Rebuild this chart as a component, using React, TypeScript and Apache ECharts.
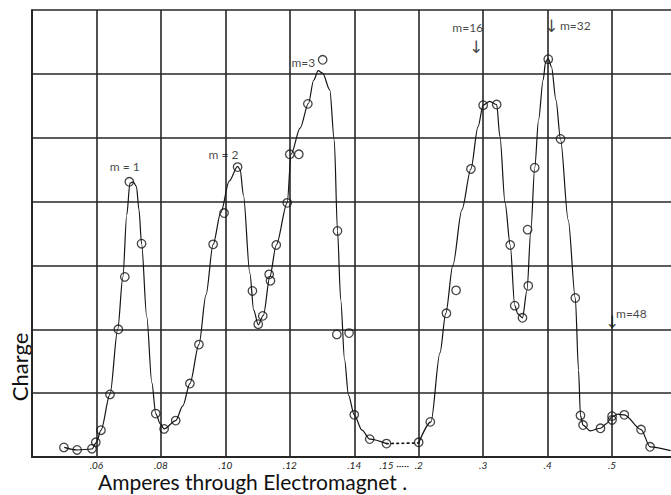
import { useEffect, useRef } from 'react';
import * as echarts from 'echarts';

// Measured circles (amperes, charge in grid divisions)
const CIRCLE_AMPS = [
  0.0499, 0.054, 0.0586, 0.0598, 0.0614, 0.0642, 0.0668, 0.0688, 0.0702, 0.074,
  0.0784, 0.081, 0.0846, 0.089, 0.0918, 0.0962, 0.0996, 0.1038, 0.1084, 0.1102,
  0.1116, 0.1136, 0.114, 0.1158, 0.1192, 0.12, 0.1228, 0.1256, 0.1302, 0.1348,
  0.1346, 0.1384, 0.14, 0.1448, 0.15, 0.2, 0.218, 0.243, 0.258, 0.281,
  0.3, 0.321, 0.342, 0.349, 0.361, 0.37, 0.369, 0.38, 0.401, 0.42,
  0.443, 0.451, 0.455, 0.482, 0.5, 0.5, 0.519, 0.545, 0.559,
];
const CIRCLE_CHARGE = [
  0.15, 0.11, 0.13, 0.23, 0.42, 0.98, 2.0, 2.82, 4.31, 3.34,
  0.68, 0.44, 0.57, 1.15, 1.76, 3.33, 3.82, 4.54, 2.6, 2.08,
  2.21, 2.86, 2.76, 3.32, 3.98, 4.74, 4.74, 5.53, 6.22, 3.54,
  1.92, 1.94, 0.66, 0.28, 0.21, 0.23, 0.55, 2.25, 2.61, 4.51,
  5.51, 5.52, 3.32, 2.37, 2.18, 2.68, 3.56, 4.53, 6.23, 4.98,
  2.49, 0.65, 0.5, 0.45, 0.64, 0.58, 0.66, 0.43, 0.16,
];

// Drawn curve, low-current part (up to .15)
const CURVE_LOW_AMPS = [
  0.05, 0.054, 0.0586, 0.06, 0.0614, 0.0642, 0.0666, 0.0682, 0.0694, 0.0704,
  0.0714, 0.0724, 0.0732, 0.074, 0.0756, 0.0772, 0.0784, 0.0798, 0.081, 0.0846,
  0.0868, 0.089, 0.0918, 0.094, 0.0962, 0.0986, 0.1012, 0.1038, 0.1046, 0.1056,
  0.1076, 0.1088, 0.1102, 0.1118, 0.1138, 0.1158, 0.1192, 0.1204, 0.1232, 0.1258,
  0.1274, 0.1288, 0.1302, 0.1324, 0.1338, 0.1348, 0.1358, 0.137, 0.1382, 0.14,
  0.1424, 0.1448, 0.15,
];
const CURVE_LOW_CHARGE = [
  0.15, 0.11, 0.125, 0.23, 0.42, 0.98, 2.0, 2.82, 3.79, 4.29,
  4.31, 4.24, 3.87, 3.34, 2.2, 1.16, 0.68, 0.52, 0.44, 0.57,
  0.8, 1.15, 1.76, 2.54, 3.33, 3.83, 4.32, 4.55, 4.5, 4.1,
  2.88, 2.3, 2.07, 2.22, 2.82, 3.32, 3.98, 4.74, 5.15, 5.54,
  5.9, 6.05, 6.01, 5.75, 4.96, 3.54, 2.46, 1.52, 0.97, 0.66,
  0.42, 0.28, 0.21,
];

// Dotted bridge across the broken scale
const GAP_AMPS = [0.15, 0.2];
const GAP_CHARGE = [0.21, 0.22];

// Drawn curve, high-current part (from .2)
const CURVE_HIGH_AMPS = [
  0.2, 0.219, 0.233, 0.242, 0.253, 0.267, 0.281, 0.292, 0.3, 0.31,
  0.321, 0.326, 0.334, 0.342, 0.349, 0.354, 0.361, 0.368, 0.374, 0.38,
  0.386, 0.393, 0.397, 0.401, 0.406, 0.413, 0.42, 0.432, 0.443, 0.448,
  0.451, 0.455, 0.466, 0.482, 0.491, 0.5, 0.509, 0.519, 0.545, 0.559,
  0.591,
];
const CURVE_HIGH_CHARGE = [
  0.22, 0.55, 1.63, 2.25, 3.0, 3.87, 4.51, 5.17, 5.51, 5.57,
  5.52, 5.02, 3.98, 3.32, 2.37, 2.24, 2.18, 2.61, 3.55, 4.53,
  5.28, 5.9, 6.19, 6.24, 6.11, 5.59, 4.98, 3.71, 2.49, 1.36,
  0.65, 0.5, 0.41, 0.45, 0.52, 0.63, 0.67, 0.66, 0.43, 0.16,
  0.1,
];

const TICK_AMPS = [0.06, 0.08, 0.1, 0.12, 0.14, 0.15, 0.175, 0.2, 0.3, 0.4, 0.5, 0.6];
const TICK_LABELS = ['.06', '.08', '.10', '.12', '.14', '.15', '·····', '.2', '.3', '.4', '.5', '.6'];

const NOTE_TEXT = ['m = 1', 'm = 2', 'm=3', 'm=16', 'm=32', 'm=48'];
const NOTE_AMPS = [0.0688, 0.0994, 0.1242, 0.276, 0.443, 0.53];
const NOTE_CHARGE = [4.55, 4.74, 6.19, 6.74, 6.76, 2.25];

const ARROW_AMPS = [0.289, 0.406, 0.5];
const ARROW_CHARGE = [6.44, 6.76, 2.13];

// Broken scale of the original: .04–.14 in steps of .02 per division,
// .14–.15 half a division, .15–.2 half a division, then .1 per division.
const toAxis = (a: number) =>
  a <= 0.14
    ? (a - 0.04) / 0.02
    : a <= 0.15
    ? 5 + (a - 0.14) / 0.02
    : a <= 0.2
    ? 5.5 + (a - 0.15) / 0.1
    : 6 + (a - 0.2) / 0.1;

const pairs = (xs: number[], ys: number[]) => xs.map((x, i) => [toAxis(x), ys[i]]);

export default function App() {
  const ref = useRef<HTMLDivElement>(null);
  useEffect(() => {
    if (!ref.current) return;
    const chart = echarts.init(ref.current, undefined, { renderer: 'svg' });
    const tickPos = TICK_AMPS.map(toAxis);
    const gridColor = '#262626';
    const ink = '#151515';
    const textLabel = (size: number, family: string) => ({
      show: true,
      position: 'top',
      distance: 0,
      offset: [0, Math.round(size * 0.6)],
      formatter: '{b}',
      color: '#111111',
      textBorderWidth: 0,
      fontFamily: family,
      fontSize: size,
    });
    chart.setOption({
      animation: false,
      backgroundColor: '#ffffff',
      grid: {
        left: 32,
        top: 10,
        bottom: 38,
        width: 644.5,
        containLabel: false,
        outerBoundsMode: 'none',
      },
      xAxis: {
        type: 'value',
        min: 0,
        max: 10,
        interval: 1,
        axisLine: { show: true, onZero: false, lineStyle: { color: gridColor, width: 2 } },
        axisTick: { show: false },
        splitLine: { show: true, lineStyle: { color: gridColor, width: 1.6 } },
        axisLabel: {
          customValues: tickPos,
          showMinLabel: true,
          showMaxLabel: true,
          hideOverlap: false,
          margin: 3,
          color: '#222',
          fontFamily: 'Lato',
          fontStyle: 'italic',
          fontSize: 10,
          formatter: (v: number) => {
            const i = tickPos.findIndex((p) => Math.abs(p - v) < 0.01);
            return i >= 0 ? TICK_LABELS[i] : '';
          },
        },
      },
      yAxis: {
        type: 'value',
        min: 0,
        max: 7,
        interval: 1,
        axisLine: { show: true, lineStyle: { color: gridColor, width: 2 } },
        axisTick: { show: false },
        axisLabel: { show: false },
        splitLine: { show: true, lineStyle: { color: gridColor, width: 1.6 } },
      },
      graphic: [
        {
          type: 'text',
          left: 98,
          top: 471,
          style: {
            text: 'Amperes through Electromagnet .',
            font: '21px Lato',
            fill: '#111',
          },
        },
        {
          type: 'text',
          x: 19,
          y: 367,
          rotation: Math.PI / 2,
          style: {
            text: 'Charge',
            font: '22px Lato',
            fill: '#111',
            align: 'center',
            verticalAlign: 'middle',
          },
        },
      ],
      series: [
        {
          type: 'line',
          data: pairs(CURVE_LOW_AMPS, CURVE_LOW_CHARGE),
          smooth: 0.3,
          smoothMonotone: 'x',
          showSymbol: false,
          symbol: 'none',
          lineStyle: { color: ink, width: 1.2 },
          z: 3,
        },
        {
          type: 'line',
          data: pairs(GAP_AMPS, GAP_CHARGE),
          showSymbol: false,
          symbol: 'none',
          lineStyle: { color: ink, width: 1.7, type: [1.6, 3.6], cap: 'round' },
          z: 3,
        },
        {
          type: 'line',
          data: pairs(CURVE_HIGH_AMPS, CURVE_HIGH_CHARGE),
          smooth: 0.3,
          smoothMonotone: 'x',
          showSymbol: false,
          symbol: 'none',
          lineStyle: { color: ink, width: 1.2 },
          z: 3,
        },
        {
          type: 'scatter',
          data: pairs(CIRCLE_AMPS, CIRCLE_CHARGE),
          symbol: 'circle',
          symbolSize: 8.5,
          itemStyle: { color: 'rgba(255,255,255,0)', borderColor: ink, borderWidth: 1.3 },
          z: 4,
        },
        {
          type: 'scatter',
          data: NOTE_TEXT.map((t, i) => ({ name: t, value: [toAxis(NOTE_AMPS[i]), NOTE_CHARGE[i]] })),
          symbolSize: 1,
          itemStyle: { color: 'rgba(0,0,0,0)' },
          label: textLabel(12, 'Lato'),
          z: 5,
        },
        {
          type: 'scatter',
          data: ARROW_AMPS.map((a, i) => ({ name: '↓', value: [toAxis(a), ARROW_CHARGE[i]] })),
          symbolSize: 1,
          itemStyle: { color: 'rgba(0,0,0,0)' },
          label: textLabel(17, 'DejaVu Sans'),
          z: 5,
        },
      ],
    });
    return () => chart.dispose();
  }, []);
  return (
    <div
      ref={ref}
      style={{ position: 'fixed', left: 0, top: 0, width: 671, height: 495, background: '#fff' }}
    />
  );
}
